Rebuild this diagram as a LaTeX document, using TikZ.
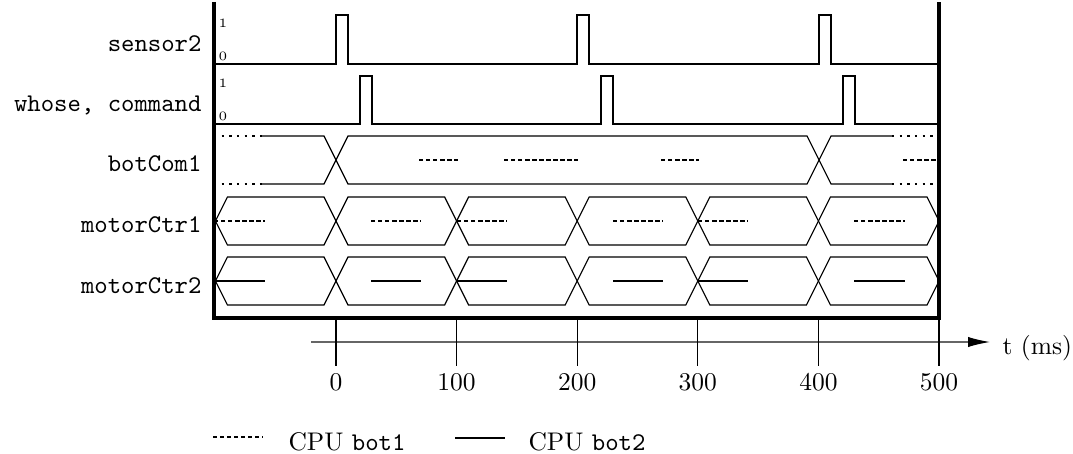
\documentclass[tikz,border=0pt]{standalone}
\usetikzlibrary{arrows.meta}
\tikzset{
  wave/.style={line width=0.45pt},
  edgedot/.style={line width=0.45pt, dash pattern=on 0.9pt off 2.1pt},
  fillone/.style={line width=1.1pt, dash pattern=on 1.75pt off 1pt},
  filltwo/.style={line width=1.1pt},
  legdot/.style={line width=0.9pt, dash pattern=on 1.5pt off 1.25pt},
  frameline/.style={line width=1.2pt},
  sig/.style={font=\ttfamily, anchor=base east, inner sep=0pt},
  lvl/.style={font=\tiny, anchor=base west, inner sep=0pt},
  ticklab/.style={anchor=base, inner sep=0pt},
}
\newcommand\mybusseg[4]{%
  \draw[wave] (#1,{(#3+#4)/2}) -- ({#1+12},#3) -- ({#2-12},#3) -- (#2,{(#3+#4)/2})
    -- ({#2-12},#4) -- ({#1+12},#4) -- cycle;}
\begin{document}
\begin{tikzpicture}[x=0.3922pt, y=-0.3922pt]
\useasboundingbox (0,0) rectangle (1073,454);

% signal names
\node[sig] (n1) at (202,52) {sensor2};
\node[sig] (n2) at (202,112) {whose, command};
\node[sig] (n3) at (202,172) {botCom1};
\node[sig] (n4) at (202,232) {motorCtr1};
\node[sig] (n5) at (202,293) {motorCtr2};

% level labels
\node[lvl] (s1) at (218,28) {1};
\node[lvl] (s0) at (218,61) {0};
\node[lvl] (w1) at (218,88) {1};
\node[lvl] (w0) at (218,121) {0};

% sensor2
\draw[wave] (214,64) -- (336,64) -- (336,15) -- (348,15) -- (348,64)
  -- (577,64) -- (577,15) -- (589,15) -- (589,64)
  -- (819,64) -- (819,15) -- (831,15) -- (831,64) -- (939,64);
% whose, command
\draw[wave] (214,124) -- (360,124) -- (360,76) -- (372,76) -- (372,124)
  -- (601,124) -- (601,76) -- (613,76) -- (613,124)
  -- (843,124) -- (843,76) -- (855,76) -- (855,124) -- (939,124);

% botCom1
\draw[edgedot] (214,136) -- (262,136);
\draw[edgedot] (214,184) -- (262,184);
\draw[wave] (262,136) -- (324,136) -- (348,184) -- (807,184) -- (831,136) -- (892,136);
\draw[wave] (262,184) -- (324,184) -- (348,136) -- (807,136) -- (831,184) -- (892,184);
\draw[edgedot] (892,136) -- (939,136);
\draw[edgedot] (892,184) -- (939,184);
\draw[fillone] (419,160) -- (458,160);
\draw[fillone] (504,160) -- (578,160);
\draw[fillone] (661,160) -- (699,160);
\draw[fillone] (903,160) -- (939,160);

% motor buses
\begin{scope}
\clip (214,0) rectangle (939,318);
\foreach \a/\b in {215.4/336, 336/456.6, 456.6/577.2, 577.2/697.8, 697.8/818.4, 818.4/939}{
  \mybusseg{\a}{\b}{197}{245}
  \mybusseg{\a}{\b}{257}{305}
}
\foreach \a/\b in {214/265, 371/421, 457/507, 613/663, 698/748, 854/905}{
  \draw[fillone] (\a,221) -- (\b,221);
  \draw[filltwo] (\a,281) -- (\b,281);
}
\end{scope}

% frame
\draw[frameline] (214,2) -- (214,318) -- (939,318) -- (939,2);

% time axis
\draw[line width=0.45pt, black!60, -{Latex[length=8.6pt, width=4pt, color=black]}] (311,342) -- (990,342);
\node[anchor=base west, inner sep=0pt] (tl) at (1002,354) {t (ms)};
\foreach \t in {0,100,200,300,400,500}{
  \draw[line width=0.45pt] ({336+1.206*\t},318) -- ({336+1.206*\t},366);
  \node[ticklab] (t\t) at ({336+1.206*\t},390) {\t};
}

% legend
\draw[legdot] (213,437) -- (263,437);
\node[anchor=base west, inner sep=0pt] (l1) at (288,450) {CPU \texttt{bot1}};
\draw[filltwo] (455,438) -- (505,438);
\node[anchor=base west, inner sep=0pt] (l2) at (528,450) {CPU \texttt{bot2}};
\end{tikzpicture}
\end{document}
